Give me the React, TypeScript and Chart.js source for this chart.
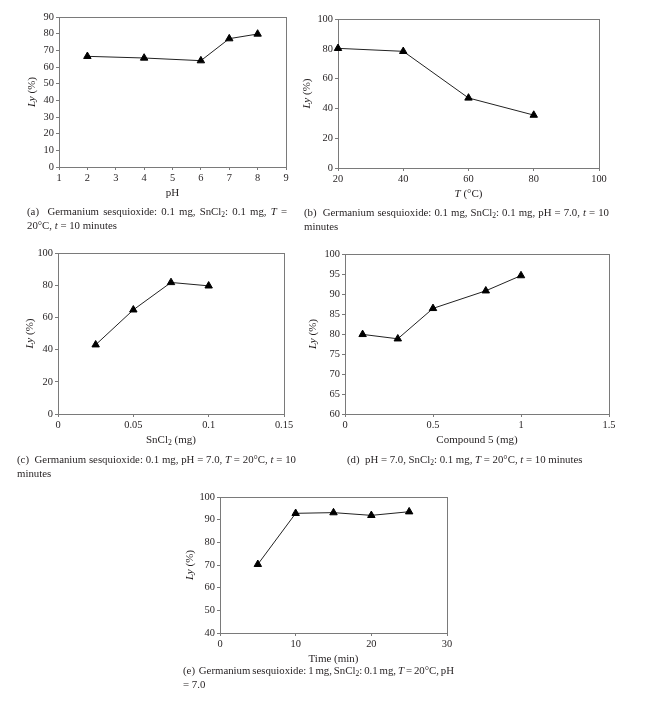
import React, { useEffect, useRef } from 'react';
import { Chart, registerables } from 'chart.js';
Chart.register(...registerables);

// ---- Data ----
const phX = [2, 4, 6, 7, 8];
const phY = [66.4, 65.4, 63.8, 77, 79.8];
const tempX = [20, 40, 60, 80];
const tempY = [80.3, 78.3, 47, 35.5];
const sncl2X = [0.025, 0.05, 0.075, 0.1];
const sncl2Y = [43, 64.7, 81.7, 79.6];
const compX = [0.1, 0.3, 0.5, 0.8, 1];
const compY = [79.9, 78.8, 86.4, 90.8, 94.6];
const timeX = [5, 10, 15, 20, 25];
const timeY = [70.3, 92.8, 93.1, 91.9, 93.5];

const FONT = "'Liberation Serif', 'Times New Roman', serif";
const TEXT = '#231f20';
const FRAME = '#7a7a7a';

type Seg = { t: string; i?: boolean; sub?: boolean };

function drawSegs(ctx: CanvasRenderingContext2D, segs: Seg[], cx: number, cy: number, size: number) {
  const fontFor = (s: Seg) => `${s.i ? 'italic ' : ''}${s.sub ? size * 0.7 : size}px ${FONT}`;
  let total = 0;
  const widths = segs.map((s) => {
    ctx.font = fontFor(s);
    const w = ctx.measureText(s.t).width;
    total += w;
    return w;
  });
  let x = cx - total / 2;
  ctx.textBaseline = 'middle';
  ctx.textAlign = 'left';
  segs.forEach((s, k) => {
    ctx.font = fontFor(s);
    ctx.fillText(s.t, x, cy + (s.sub ? size * 0.28 : 0));
    x += widths[k];
  });
}

const framePlugin = {
  id: 'frameTitles',
  beforeDatasetsDraw(chart: any) {
    const { ctx, chartArea: a } = chart;
    ctx.save();
    ctx.strokeStyle = FRAME;
    ctx.lineWidth = 1;
    ctx.strokeRect(a.left + 0.5, a.top + 0.5, a.right - a.left, a.bottom - a.top);
    ctx.restore();
  },
  afterDraw(chart: any, _args: any, opts: any) {
    const { ctx, chartArea: a } = chart;
    ctx.save();
    ctx.fillStyle = TEXT;
    drawSegs(ctx, opts.xTitle, (a.left + a.right) / 2, a.bottom + opts.xOff, 11);
    ctx.translate(a.left - opts.yOff, (a.top + a.bottom) / 2);
    ctx.rotate(-Math.PI / 2);
    drawSegs(ctx, opts.yTitle, 0, 0, 11);
    ctx.restore();
  },
};

const LY: Seg[] = [{ t: 'Ly', i: true }, { t: ' (%)' }];

type PanelCfg = {
  xs: number[];
  ys: number[];
  xMin: number; xMax: number; xStep: number;
  yMin: number; yMax: number; yStep: number;
  l: number; r: number; t: number; b: number;
  xTitle: Seg[];
  yOff: number;
};

const PAD_L = 55, PAD_T = 12, PAD_R = 20, PAD_B = 42;

const panels: PanelCfg[] = [
  { xs: phX, ys: phY, xMin: 1, xMax: 9, xStep: 1, yMin: 0, yMax: 90, yStep: 10,
    l: 59, r: 286, t: 17, b: 167, xTitle: [{ t: 'pH' }], yOff: 27 },
  { xs: tempX, ys: tempY, xMin: 20, xMax: 100, xStep: 20, yMin: 0, yMax: 100, yStep: 20,
    l: 338, r: 599, t: 19, b: 168, xTitle: [{ t: 'T', i: true }, { t: ' (°C)' }], yOff: 31 },
  { xs: sncl2X, ys: sncl2Y, xMin: 0, xMax: 0.15, xStep: 0.05, yMin: 0, yMax: 100, yStep: 20,
    l: 58, r: 284, t: 253, b: 414, xTitle: [{ t: 'SnCl' }, { t: '2', sub: true }, { t: ' (mg)' }], yOff: 28 },
  { xs: compX, ys: compY, xMin: 0, xMax: 1.5, xStep: 0.5, yMin: 60, yMax: 100, yStep: 5,
    l: 345, r: 609, t: 254, b: 414, xTitle: [{ t: 'Compound 5 (mg)' }], yOff: 32 },
  { xs: timeX, ys: timeY, xMin: 0, xMax: 30, xStep: 10, yMin: 40, yMax: 100, yStep: 10,
    l: 220, r: 447, t: 497, b: 633, xTitle: [{ t: 'Time (min)' }], yOff: 30 },
];

const fmt = (v: any) => String(parseFloat(Number(v).toFixed(4)));

function Panel({ cfg }: { cfg: PanelCfg }) {
  const ref = useRef<HTMLCanvasElement>(null);
  const w = cfg.r - cfg.l + PAD_L + PAD_R;
  const h = cfg.b - cfg.t + PAD_T + PAD_B;
  useEffect(() => {
    const tickFont = { family: FONT, size: 10.4 };
    const chart = new Chart(ref.current!, {
      type: 'line',
      data: {
        datasets: [
          {
            data: cfg.xs.map((x, k) => ({ x, y: cfg.ys[k] })),
            borderColor: '#222',
            borderWidth: 1,
            pointStyle: 'triangle',
            pointRadius: 4.3,
            pointBackgroundColor: '#000',
            pointBorderColor: '#000',
            pointBorderWidth: 1,
            clip: false as any,
            tension: 0,
          },
        ],
      },
      options: {
        animation: false,
        responsive: false,
        devicePixelRatio: 1,
        layout: { padding: { left: 0, top: PAD_T, right: PAD_R, bottom: 0 } },
        plugins: {
          legend: { display: false },
          tooltip: { enabled: false },
          frameTitles: { xTitle: cfg.xTitle, yTitle: LY, xOff: 26, yOff: cfg.yOff },
        } as any,
        scales: {
          x: {
            type: 'linear',
            min: cfg.xMin,
            max: cfg.xMax,
            afterFit: (s: any) => { s.height = PAD_B; },
            ticks: { stepSize: cfg.xStep, font: tickFont, color: TEXT, padding: 2, maxRotation: 0, callback: fmt },
            grid: { drawOnChartArea: false, drawTicks: true, tickLength: 3, color: FRAME },
            border: { color: FRAME, width: 1 },
          },
          y: {
            type: 'linear',
            min: cfg.yMin,
            max: cfg.yMax,
            afterFit: (s: any) => { s.width = PAD_L; },
            ticks: { stepSize: cfg.yStep, font: tickFont, color: TEXT, padding: 2, callback: fmt },
            grid: { drawOnChartArea: false, drawTicks: true, tickLength: 3, color: FRAME },
            border: { color: FRAME, width: 1 },
          },
        },
      },
      plugins: [framePlugin as any],
    });
    return () => chart.destroy();
  }, []);
  return (
    <canvas
      ref={ref}
      width={w}
      height={h}
      style={{ position: 'absolute', left: cfg.l - PAD_L, top: cfg.t - PAD_T, width: w, height: h }}
    />
  );
}

const capStyle: React.CSSProperties = {
  position: 'absolute',
  fontFamily: FONT,
  fontSize: '10.8px',
  lineHeight: '14px',
  color: TEXT,
};
const justLine: React.CSSProperties = { textAlign: 'justify', textAlignLast: 'justify', wordSpacing: '-1.5px' };
const subS: React.CSSProperties = { fontSize: '0.7em', lineHeight: 0, verticalAlign: '-0.2em' };

function Sn() {
  return <>SnCl<span style={subS}>2</span></>;
}

export default function App() {
  return (
    <div style={{ position: 'absolute', left: 0, top: 0, width: 662, height: 702, background: '#fff' }}>
      {panels.map((p, k) => (
        <Panel key={k} cfg={p} />
      ))}
      <div style={{ ...capStyle, left: 27, top: 204, width: 260 }}>
        <div style={justLine}>
          (a)&nbsp; Germanium sesquioxide: 0.1 mg, <Sn />: 0.1 mg, <i>T</i> =
        </div>
        <div>20°C, <i>t</i> = 10 minutes</div>
      </div>
      <div style={{ ...capStyle, left: 304, top: 205, width: 305 }}>
        <div style={justLine}>
          (b)&nbsp; Germanium sesquioxide: 0.1 mg, <Sn />: 0.1 mg, pH = 7.0, <i>t</i> = 10
        </div>
        <div>minutes</div>
      </div>
      <div style={{ ...capStyle, left: 17, top: 452, width: 279 }}>
        <div style={justLine}>
          (c)&nbsp; Germanium sesquioxide: 0.1 mg, pH = 7.0, <i>T</i> = 20°C, <i>t</i> = 10
        </div>
        <div>minutes</div>
      </div>
      <div style={{ ...capStyle, left: 347, top: 452, whiteSpace: 'nowrap' }}>
        (d)&nbsp; pH = 7.0, <Sn />: 0.1 mg, <i>T</i> = 20°C, <i>t</i> = 10 minutes
      </div>
      <div style={{ ...capStyle, left: 183, top: 663, width: 271 }}>
        <div style={justLine}>
          (e)&nbsp; Germanium sesquioxide: 1 mg, <Sn />: 0.1 mg, <i>T</i> = 20°C, pH
        </div>
        <div>= 7.0</div>
      </div>
    </div>
  );
}
